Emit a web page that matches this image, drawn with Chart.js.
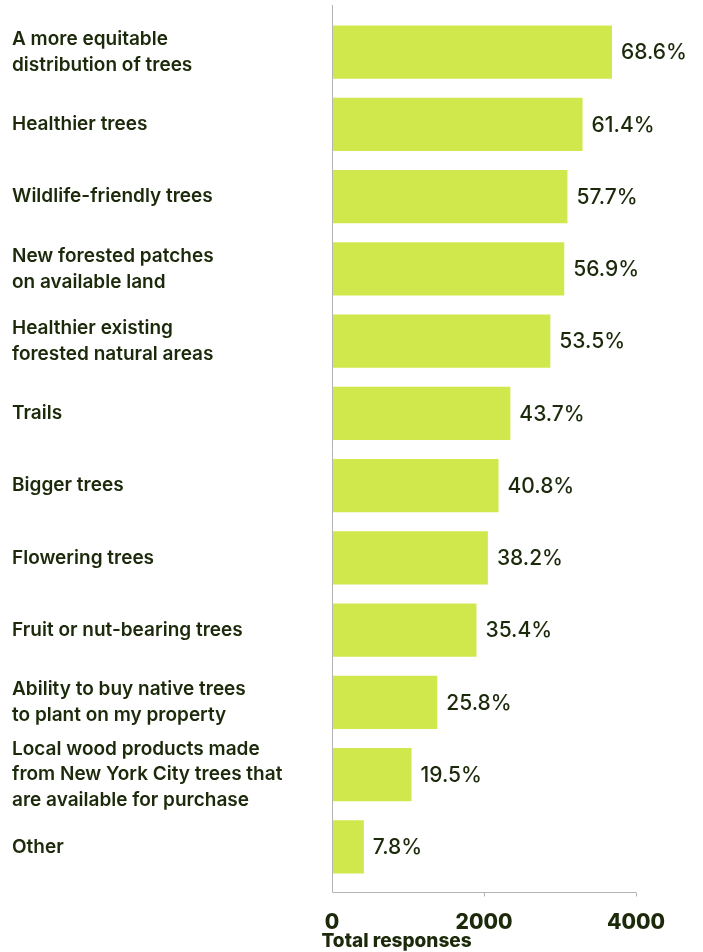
<!DOCTYPE html>
<html lang="en">
<head>
    <meta charset="UTF-8">
    <title>Tree priorities</title>
    <script src="https://cdn.jsdelivr.net/npm/chart.js"></script>
    <style>
        html, body {
            margin: 0;
            padding: 0;
            background: #fff;
        }
        .wrap {
            width: 703px;
            height: 952px;
        }
    </style>
</head>
<body>
    <div class="wrap"><canvas id="chart"></canvas></div>

    <script>
        // categories, top to bottom
        const categories = [
            ["A more equitable", "distribution of trees"],
            "Healthier trees",
            "Wildlife-friendly trees",
            ["New forested patches", "on available land"],
            ["Healthier existing", "forested natural areas"],
            "Trails",
            "Bigger trees",
            "Flowering trees",
            "Fruit or nut-bearing trees",
            ["Ability to buy native trees", "to plant on my property"],
            ["Local wood products made", "from New York City trees that", "are available for purchase"],
            "Other"
        ];
        // total responses
        const responses = [3684, 3297, 3098, 3056, 2873, 2347, 2191, 2051, 1901, 1385, 1047, 419];
        // share of respondents shown at the end of each bar
        const shares = ["68.6%", "61.4%", "57.7%", "56.9%", "53.5%", "43.7%", "40.8%", "38.2%", "35.4%", "25.8%", "19.5%", "7.8%"];
        const xTicks = [0, 2000, 4000];
        const xTitle = "Total responses";

        const ink = "#1c2a0b";
        const barColor = "#d1e84c";
        const axisColor = "#b4b4b4";
        const fontFamily = "Inter, 'Noto Sans', sans-serif";

        // axis lines, value labels and axis title
        const decorations = {
            id: "decorations",
            afterDatasetsDraw(chart) {
                const { ctx } = chart;
                const meta = chart.getDatasetMeta(0);
                ctx.save();
                ctx.fillStyle = ink;
                ctx.font = `500 21px ${fontFamily}`;
                ctx.textAlign = "left";
                ctx.textBaseline = "middle";
                meta.data.forEach((bar, i) => {
                    ctx.fillText(shares[i], bar.x + 9, bar.y + 1);
                });
                ctx.restore();
            },
            afterDraw(chart) {
                const { ctx, chartArea, scales: { x } } = chart;
                const left = x.getPixelForValue(xTicks[0]) + 0.5;
                const right = x.getPixelForValue(xTicks[xTicks.length - 1]);
                const top = chartArea.top - 11;
                const bottom = chartArea.bottom + 9.5;
                ctx.save();
                ctx.strokeStyle = axisColor;
                ctx.lineWidth = 1;
                ctx.beginPath();
                ctx.moveTo(left, top);
                ctx.lineTo(left, bottom);
                ctx.lineTo(right, bottom);
                xTicks.slice(1).forEach(v => {
                    const px = Math.round(x.getPixelForValue(v)) + 0.5;
                    ctx.moveTo(px, bottom);
                    ctx.lineTo(px, bottom + 4);
                });
                ctx.stroke();

                ctx.fillStyle = ink;
                ctx.font = `800 19px ${fontFamily}`;
                ctx.textAlign = "left";
                ctx.textBaseline = "middle";
                ctx.fillText(xTitle, left - 11, 941);
                ctx.restore();
            }
        };

        new Chart(document.getElementById("chart"), {
            type: "bar",
            data: {
                labels: categories,
                datasets: [{
                    data: responses,
                    backgroundColor: barColor,
                    borderWidth: 0,
                    barPercentage: 0.74,
                    categoryPercentage: 1
                }]
            },
            options: {
                indexAxis: "y",
                responsive: true,
                maintainAspectRatio: false,
                animation: false,
                layout: {
                    padding: { top: 16, left: 12, right: 67, bottom: 0 }
                },
                plugins: {
                    legend: { display: false },
                    tooltip: { enabled: false }
                },
                scales: {
                    x: {
                        min: 0,
                        max: 4000,
                        afterBuildTicks: scale => {
                            scale.ticks = xTicks.map(v => ({ value: v }));
                        },
                        afterFit: scale => { scale.height = 69; },
                        grid: { display: false, drawTicks: false },
                        border: { display: false },
                        ticks: {
                            padding: 27,
                            color: ink,
                            font: { family: fontFamily, size: 21, weight: "800" },
                            maxRotation: 0,
                            callback: value => String(value)
                        }
                    },
                    y: {
                        afterFit: scale => { scale.width = 320; },
                        grid: { display: false, drawTicks: false },
                        border: { display: false },
                        ticks: {
                            autoSkip: false,
                            crossAlign: "far",
                            color: ink,
                            font: { family: fontFamily, size: 19, weight: "600", lineHeight: 1.36 }
                        }
                    }
                }
            },
            plugins: [decorations]
        });
    </script>
</body>
</html>
